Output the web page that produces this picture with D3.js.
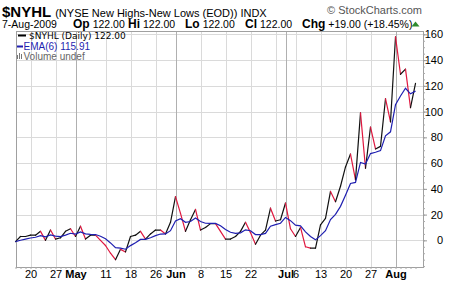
<!DOCTYPE html>
<html><head><meta charset="utf-8">
<script src="https://cdn.jsdelivr.net/npm/d3@7"></script>
<style>body{margin:0;background:#fff}svg{display:block;font-family:"Liberation Sans",Arial,sans-serif}</style>
</head><body>
<svg id="c" width="460" height="284"></svg>
<script>
// ---------- data ----------
const tradingDates = [
 "2009-04-15","2009-04-16","2009-04-17","2009-04-20","2009-04-21","2009-04-22","2009-04-23","2009-04-24","2009-04-27","2009-04-28","2009-04-29","2009-04-30",
 "2009-05-01","2009-05-04","2009-05-05","2009-05-06","2009-05-07","2009-05-08","2009-05-11","2009-05-12","2009-05-13","2009-05-14","2009-05-15","2009-05-18","2009-05-19","2009-05-20","2009-05-21","2009-05-22","2009-05-26","2009-05-27","2009-05-28","2009-05-29",
 "2009-06-01","2009-06-02","2009-06-03","2009-06-04","2009-06-05","2009-06-08","2009-06-09","2009-06-10","2009-06-11","2009-06-12","2009-06-15","2009-06-16","2009-06-17","2009-06-18","2009-06-19","2009-06-22","2009-06-23","2009-06-24","2009-06-25","2009-06-26","2009-06-29","2009-06-30",
 "2009-07-01","2009-07-02","2009-07-06","2009-07-07","2009-07-08","2009-07-09","2009-07-10","2009-07-13","2009-07-14","2009-07-15","2009-07-16","2009-07-17","2009-07-20","2009-07-21","2009-07-22","2009-07-23","2009-07-24","2009-07-27","2009-07-28","2009-07-29","2009-07-30","2009-07-31",
 "2009-08-03","2009-08-04","2009-08-05","2009-08-06","2009-08-07"];
const closeValues = [-1,3,3,4,4,7,0,8,1,2, 7,9,3,11,1,4,4,0,-4,-10, -15,-7,-9,3,4,7,1,5,8,8,
 5,14,34,21,7,16,24,8,10,13, 13,7,1,1,3,7,14,6,-3,4, 8,25,15,16,29,9,3,10,-5,-6,
 -6,12,17,38,30,42,57,67,47,99, 56,88,71,73,110,92,158,129,133,103, 122];
const emaValues = [-1.0,0.1,1.0,1.8,2.4,3.7,2.7,4.2,3.3,2.9, 4.1,5.5,4.8,6.6,5.0,4.7,4.5,3.2,1.2,-2.0,
 -5.7,-6.1,-6.9,-4.1,-1.8,0.7,0.8,2.0,3.7,4.9, 5.0,7.5,15.1,16.8,14.0,14.6,17.3,14.6,13.3,13.2,
 13.2,11.4,8.4,6.3,5.4,5.8,8.2,7.5,4.5,4.4, 5.4,11.0,12.2,13.3,17.8,15.3,11.8,11.3,6.6,3.0,
 0.4,3.7,7.5,16.2,20.2,26.4,35.1,44.2,45.0,60.5, 59.2,67.4,68.4,69.7,81.2,84.3,105.4,112.1,118.1,113.8, 115.9];
const yTicks = [0,20,40,60,80,100,120,140,160];
const xLabelDates = ["2009-04-20","2009-04-27","2009-05-01","2009-05-11","2009-05-18","2009-05-26","2009-06-01","2009-06-08","2009-06-15","2009-06-22","2009-07-01","2009-07-06","2009-07-13","2009-07-20","2009-07-27","2009-08-03"];
const xLabels = ["20","27","May","11","18","26","Jun","8","15","22","Jul","6","13","20","27","Aug"];
const weekGridDates = ["2009-04-20","2009-04-27","2009-05-11","2009-05-18","2009-05-26","2009-06-08","2009-06-15","2009-06-22","2009-06-29","2009-07-06","2009-07-13","2009-07-20","2009-07-27"];
const monthGridDates = ["2009-05-01","2009-06-01","2009-07-01","2009-08-03"];
const monthLabels = ["May","Jun","Jul","Aug"];
const quoteLabels = ["Op","Hi","Lo","Cl","Chg"];
const quoteValues = ["122.00","122.00","122.00","122.00","+19.00 (+18.45%)"];

// ---------- layout ----------
const L=16, R=423, T=31, B=267;
const svg = d3.select("#c");
const x = d3.scalePoint().domain(tradingDates).range([15.5, 415.5]);
const y = d3.scaleLinear().domain([-20.7, 162.6]).range([B, T]);

// grid
const g = svg.append("g");
g.selectAll(".hg").data(yTicks).join("line")
 .attr("x1",L).attr("x2",R).attr("y1",d=>Math.round(y(d))+0.5).attr("y2",d=>Math.round(y(d))+0.5)
 .attr("stroke","#dadada").attr("stroke-width",1);
g.selectAll(".vg").data(weekGridDates).join("line")
 .attr("x1",d=>Math.round(x(d))+0.5).attr("x2",d=>Math.round(x(d))+0.5).attr("y1",T).attr("y2",B)
 .attr("stroke","#dadada").attr("stroke-width",1);
g.selectAll(".mg").data(monthGridDates).join("line")
 .attr("x1",d=>Math.round(x(d))+0.5).attr("x2",d=>Math.round(x(d))+0.5).attr("y1",T).attr("y2",B)
 .attr("stroke","#b0b0b0").attr("stroke-width",1);

// border
svg.append("rect").attr("x",L+0.5).attr("y",T+0.5).attr("width",R-L).attr("height",B-T)
 .attr("fill","none").attr("stroke","#a0a0a0");

// price line, colored segments
const pts = tradingDates.map((d,i)=>({d, v:closeValues[i]}));
const seg = d3.line().x(p=>x(p.d)).y(p=>y(p.v));
svg.append("g").selectAll("path").data(d3.pairs(pts)).join("path")
 .attr("d",p=>seg(p)).attr("fill","none")
 .attr("stroke",p=>p[1].v < p[0].v ? "#e0173f" : "#111")
 .attr("stroke-width",1.2).attr("stroke-linecap","round");

// EMA
const emaPts = tradingDates.map((d,i)=>({d, v:emaValues[i]}));
svg.append("path").datum(emaPts).attr("d",seg).attr("fill","none")
 .attr("stroke","#1f1fb0").attr("stroke-width",1.2);

// bottom axis minor ticks
const bx = svg.append("g").attr("transform",`translate(0,${B})`)
 .call(d3.axisBottom(x).tickValues(tradingDates).tickSize(2).tickFormat(""));
bx.select(".domain").remove();
bx.selectAll("line").attr("stroke","#aaa");
// bottom labels
const bl = svg.append("g").attr("transform",`translate(0,${B})`)
 .call(d3.axisBottom(x).tickValues(xLabelDates).tickSize(0).tickPadding(3)
   .tickFormat(d=>xLabels[xLabelDates.indexOf(d)]));
bl.select(".domain").remove();
bl.selectAll("text").attr("font-size",11).attr("fill","#000")
 .attr("font-family","'Liberation Sans',Arial,sans-serif")
 .attr("font-weight",d=>monthLabels.includes(xLabels[xLabelDates.indexOf(d)])?"bold":"normal");

// right axis
const ry = svg.append("g").attr("transform",`translate(${R},0)`)
 .call(d3.axisRight(y).tickValues(y.ticks(40)).tickSize(2).tickFormat(""));
ry.select(".domain").remove();
ry.selectAll("line").attr("stroke","#aaa");
const ryl = svg.append("g").attr("transform",`translate(${R},0)`)
 .call(d3.axisRight(y).tickValues(yTicks).tickSize(4).tickFormat(d3.format("d")));
ryl.select(".domain").remove();
ryl.selectAll("line").attr("stroke","#999");
ryl.selectAll("text").attr("x",20).attr("text-anchor","end").attr("font-size",11).attr("fill","#000")
 .attr("font-family","'Liberation Sans',Arial,sans-serif");

// header
const t1 = svg.append("text").attr("x",2).attr("y",16.5).attr("fill","#000");
t1.append("tspan").attr("font-weight","bold").attr("font-size",15).text("$NYHL");
t1.append("tspan").attr("font-size",11).attr("dx",4).text("(NYSE New Highs-New Lows (EOD))  INDX");
svg.append("text").attr("x",422).attr("y",13.5).attr("text-anchor","end").attr("font-size",11)
 .attr("fill","#555").text("\u00A9 StockCharts.com");

svg.append("text").attr("x",2).attr("y",28).attr("font-size",10.5).attr("fill","#000").text("7-Aug-2009");
const quoteX = [73,128,185,245,302];
quoteLabels.forEach((lab,i)=>{
  const t = svg.append("text").attr("x",quoteX[i]).attr("y",28).attr("fill","#000");
  t.append("tspan").attr("font-weight","bold").attr("font-size",12).text(lab);
  t.append("tspan").attr("dx",3).attr("font-size",10.5).text(quoteValues[i]);
});
svg.append("path").attr("d","M411.5,26.5 L415.5,21.5 L419.5,26.5 Z").attr("fill","#2e8b2e");

// legend
svg.append("line").attr("x1",18).attr("x2",26).attr("y1",35.5).attr("y2",35.5).attr("stroke","#000").attr("stroke-width",2);
svg.append("text").attr("x",29).attr("y",39).attr("font-family","'DejaVu Sans',sans-serif")
 .attr("font-size",9).attr("fill","#000").text("$NYHL (Daily) 122.00");
svg.append("line").attr("x1",17).attr("x2",23).attr("y1",46.5).attr("y2",46.5).attr("stroke","#1f1fb0").attr("stroke-width",2);
svg.append("text").attr("x",23.5).attr("y",49.5).attr("font-size",10).attr("fill","#1f1fb0").text("EMA(6) 115.91");
svg.append("rect").attr("x",17).attr("y",55).attr("width",1).attr("height",4).attr("fill","#777");
svg.append("rect").attr("x",19).attr("y",53).attr("width",1).attr("height",6).attr("fill","#777");
svg.append("rect").attr("x",21).attr("y",54).attr("width",1).attr("height",5).attr("fill","#777");
svg.append("text").attr("x",23.5).attr("y",59.5).attr("font-size",10).attr("fill","#666").text("Volume undef");
</script>
</body></html>
